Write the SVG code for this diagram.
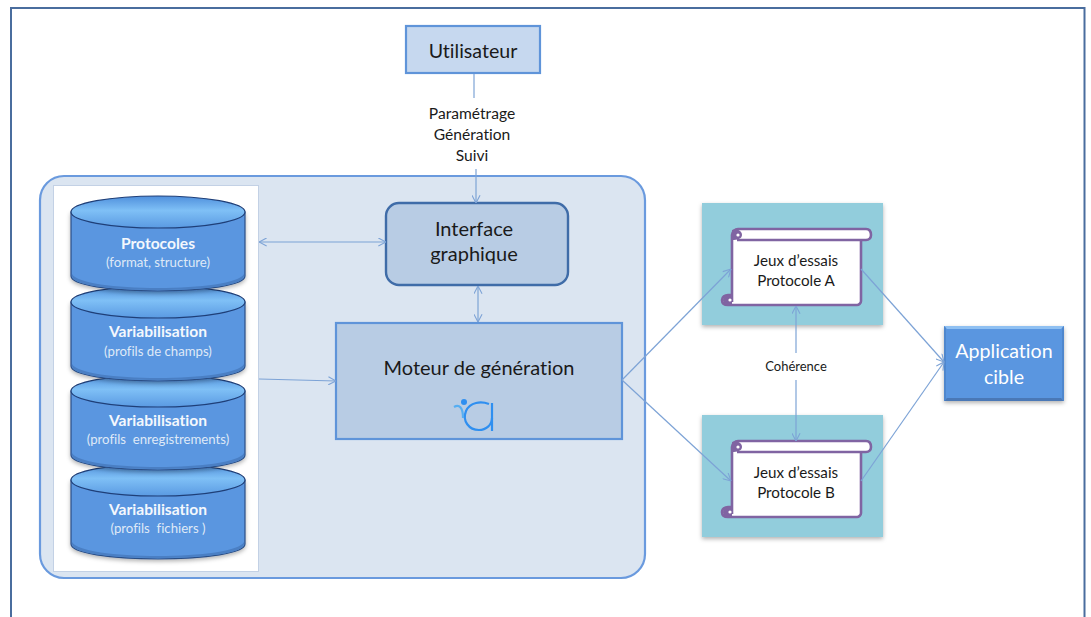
<svg xmlns="http://www.w3.org/2000/svg" width="1091" height="617" viewBox="0 0 1091 617">
<style>
text{font-family:Lato,"Open Sans",sans-serif;text-anchor:middle;fill:#1a1a1a;font-variant-ligatures:none;white-space:pre}
.w{fill:#fff}
.b{font-weight:700;font-size:15.6px;fill:#f4f8fd}
.s{font-size:13.2px;fill:#dfe9f7}
.l{font-size:15.2px}
.m{font-size:20px}
.c{fill:none;stroke:#7da3d6;stroke-width:1.2}
.cyl{fill:#5a96e0;stroke:#2c4f86;stroke-width:1.2}
.scroll{fill:#fff;stroke:#8064a2;stroke-width:2.6;stroke-linejoin:round}
.curl{fill:#8064a2}
</style>
<defs>
<linearGradient id="top" x1="0" y1="0" x2="0" y2="1"><stop offset="0" stop-color="#4f8fdc"/><stop offset="0.45" stop-color="#7fc0f6"/><stop offset="1" stop-color="#5a9ae2"/></linearGradient>
<filter id="sh" x="-10%" y="-10%" width="120%" height="125%"><feDropShadow dx="0" dy="2" stdDeviation="2" flood-color="#000" flood-opacity="0.3"/></filter>
<marker id="a" viewBox="0 0 10 10" refX="9.5" refY="5" markerWidth="9" markerHeight="9" markerUnits="userSpaceOnUse" orient="auto-start-reverse"><path d="M1 .5L9.5 5L1 9.5" fill="none" stroke="#7da3d6" stroke-width="1.2"/></marker>
<g id="cylinder"><path class="cyl" filter="url(#sh)" d="M0 16V80C0 89 39 95 87 95S174 89 174 80V16Z"/><path d="M1 78C6 87 44 92 87 92S168 87 173 78V80C173 89 135 94 87 94S1 89 1 80Z" fill="#4a7fc4"/><ellipse cx="87" cy="16" rx="87" ry="16" fill="url(#top)" stroke="#1f3f78" stroke-width="1.2"/></g>
</defs>
<rect width="1091" height="617" fill="#fff"/>
<rect id="frame" x="11" y="8" width="1073.5" height="640" fill="#fff" stroke="#4a6d9e" stroke-width="2"/>
<g id="utilisateur"><rect x="406" y="26" width="134" height="47" fill="#c6d8ef" stroke="#5f94d9" stroke-width="2.2"/><text x="473" y="58" style="font-size:19.6px">Utilisateur</text></g>
<g id="conteneur"><rect x="40" y="176" width="605" height="402" rx="24" fill="#dbe5f1" stroke="#6a9ade" stroke-width="2.2"/></g>
<g id="panneau"><rect x="53.500" y="185.500" width="205" height="386" fill="#fff" stroke="#c3d1e5"/></g>
<g id="cyl4"><use href="#cylinder" x="71" y="464"/><text class="b" x="158" y="515">Variabilisation</text><text class="s" x="158" y="533">(profils  fichiers )</text></g>
<g id="cyl3"><use href="#cylinder" x="71" y="375"/><text class="b" x="158" y="426">Variabilisation</text><text class="s" x="158" y="444">(profils  enregistrements)</text></g>
<g id="cyl2"><use href="#cylinder" x="71" y="286"/><text class="b" x="158" y="337">Variabilisation</text><text class="s" x="158" y="356">(profils de champs)</text></g>
<g id="cyl1"><use href="#cylinder" x="71" y="196"/><text class="b" x="158" y="249">Protocoles</text><text class="s" x="158" y="267">(format, structure)</text></g>
<g id="interface"><rect x="386" y="203" width="182" height="82" rx="13" fill="#b8cce4" stroke="#3f6ca8" stroke-width="2.4"/><text class="m" x="474" y="236">Interface</text><text class="m" x="474" y="261">graphique</text></g>
<g id="moteur"><rect x="336" y="323" width="286" height="116" fill="#b8cce4" stroke="#5f94d9" stroke-width="2.2"/><text class="m" x="479" y="375">Moteur de génération</text>
<g fill="none" stroke="#2f8ff0" stroke-width="2.2"><path d="M489 404C481 401 470 402 466 411C462 421 469 430 479 430C486 430 492 425 492 418"/><path d="M492 403V431"/><path d="M454 407C459 404 463 407 463 418" stroke="#56aef2"/></g><circle cx="464" cy="402" r="3" fill="#2f8ff0"/></g>
<g id="jeuxA"><rect x="702" y="203" width="181" height="122" fill="#92cddc" filter="url(#sh)"/><path class="scroll" d="M732 302V235C732 232 735 229 738 229H866C869 229 871 231 871 235C871 238 869 240 866 240H861V301C861 303 859 305 857 305H728C724 305 722 303 722 300C722 297 725 295 728 295H732M737 240H861"/><path class="curl" d="M732 230C737 228 742 231 742 235C742 239 737 240 732 240Z"/><path class="curl" d="M723 300C723 296 727 295 732 295V305H728C725 305 723 303 723 300Z"/><circle cx="738" cy="235" r="1.6" fill="#fff"/><circle cx="730" cy="300" r="1.6" fill="#fff"/><text class="l" x="796" y="266">Jeux d’essais</text><text class="l" x="796" y="286">Protocole A</text></g>
<g id="jeuxB"><rect x="702" y="415" width="181" height="122" fill="#92cddc" filter="url(#sh)"/><path class="scroll" d="M732 514V447C732 444 735 441 738 441H866C869 441 871 443 871 447C871 450 869 452 866 452H861V513C861 515 859 517 857 517H728C724 517 722 515 722 512C722 509 725 507 728 507H732M737 452H861"/><path class="curl" d="M732 442C737 440 742 443 742 447C742 451 737 452 732 452Z"/><path class="curl" d="M723 512C723 508 727 507 732 507V517H728C725 517 723 515 723 512Z"/><circle cx="738" cy="447" r="1.6" fill="#fff"/><circle cx="730" cy="512" r="1.6" fill="#fff"/><text class="l" x="796" y="478">Jeux d’essais</text><text class="l" x="796" y="498">Protocole B</text></g>
<g id="application"><rect x="944" y="326" width="120" height="75" fill="#5a96e0" filter="url(#sh)"/><path d="M944 326H1064L1061 329H947Z" fill="#8fc0f2"/><path d="M944 401H1064L1061 398H947Z" fill="#4a78b6"/><path d="M944 326V401L946 399V328ZM1064 326V401L1062 399V328Z" fill="#4f87cd"/><text class="w" x="1004" y="358" style="font-size:19.6px">Application</text><text class="w" x="1004" y="384" style="font-size:19.6px">cible</text></g>
<g id="connectors">
<path class="c" d="M474 74V98"/>
<path class="c" d="M476 169V203" marker-end="url(#a)"/>
<path class="c" d="M259 242H386" marker-start="url(#a)" marker-end="url(#a)"/>
<path class="c" d="M478 286V322" marker-start="url(#a)" marker-end="url(#a)"/>
<path class="c" d="M259 379L336 381" marker-end="url(#a)"/>
<path class="c" d="M622 380L731 269" marker-end="url(#a)"/>
<path class="c" d="M622 380L731 481" marker-end="url(#a)"/>
<path class="c" d="M796 306V353" marker-start="url(#a)"/>
<path class="c" d="M796 380V441" marker-end="url(#a)"/>
<path class="c" d="M861 269L944 362" marker-end="url(#a)"/>
<path class="c" d="M861 481L944 362" marker-end="url(#a)"/>
</g>
<g id="labels"><text x="472" y="119" style="font-size:15.6px">Paramétrage</text><text x="472" y="140" style="font-size:15.6px">Génération</text><text x="472" y="161" style="font-size:15.6px">Suivi</text><text x="796" y="371" style="font-size:13px">Cohérence</text></g>
</svg>
